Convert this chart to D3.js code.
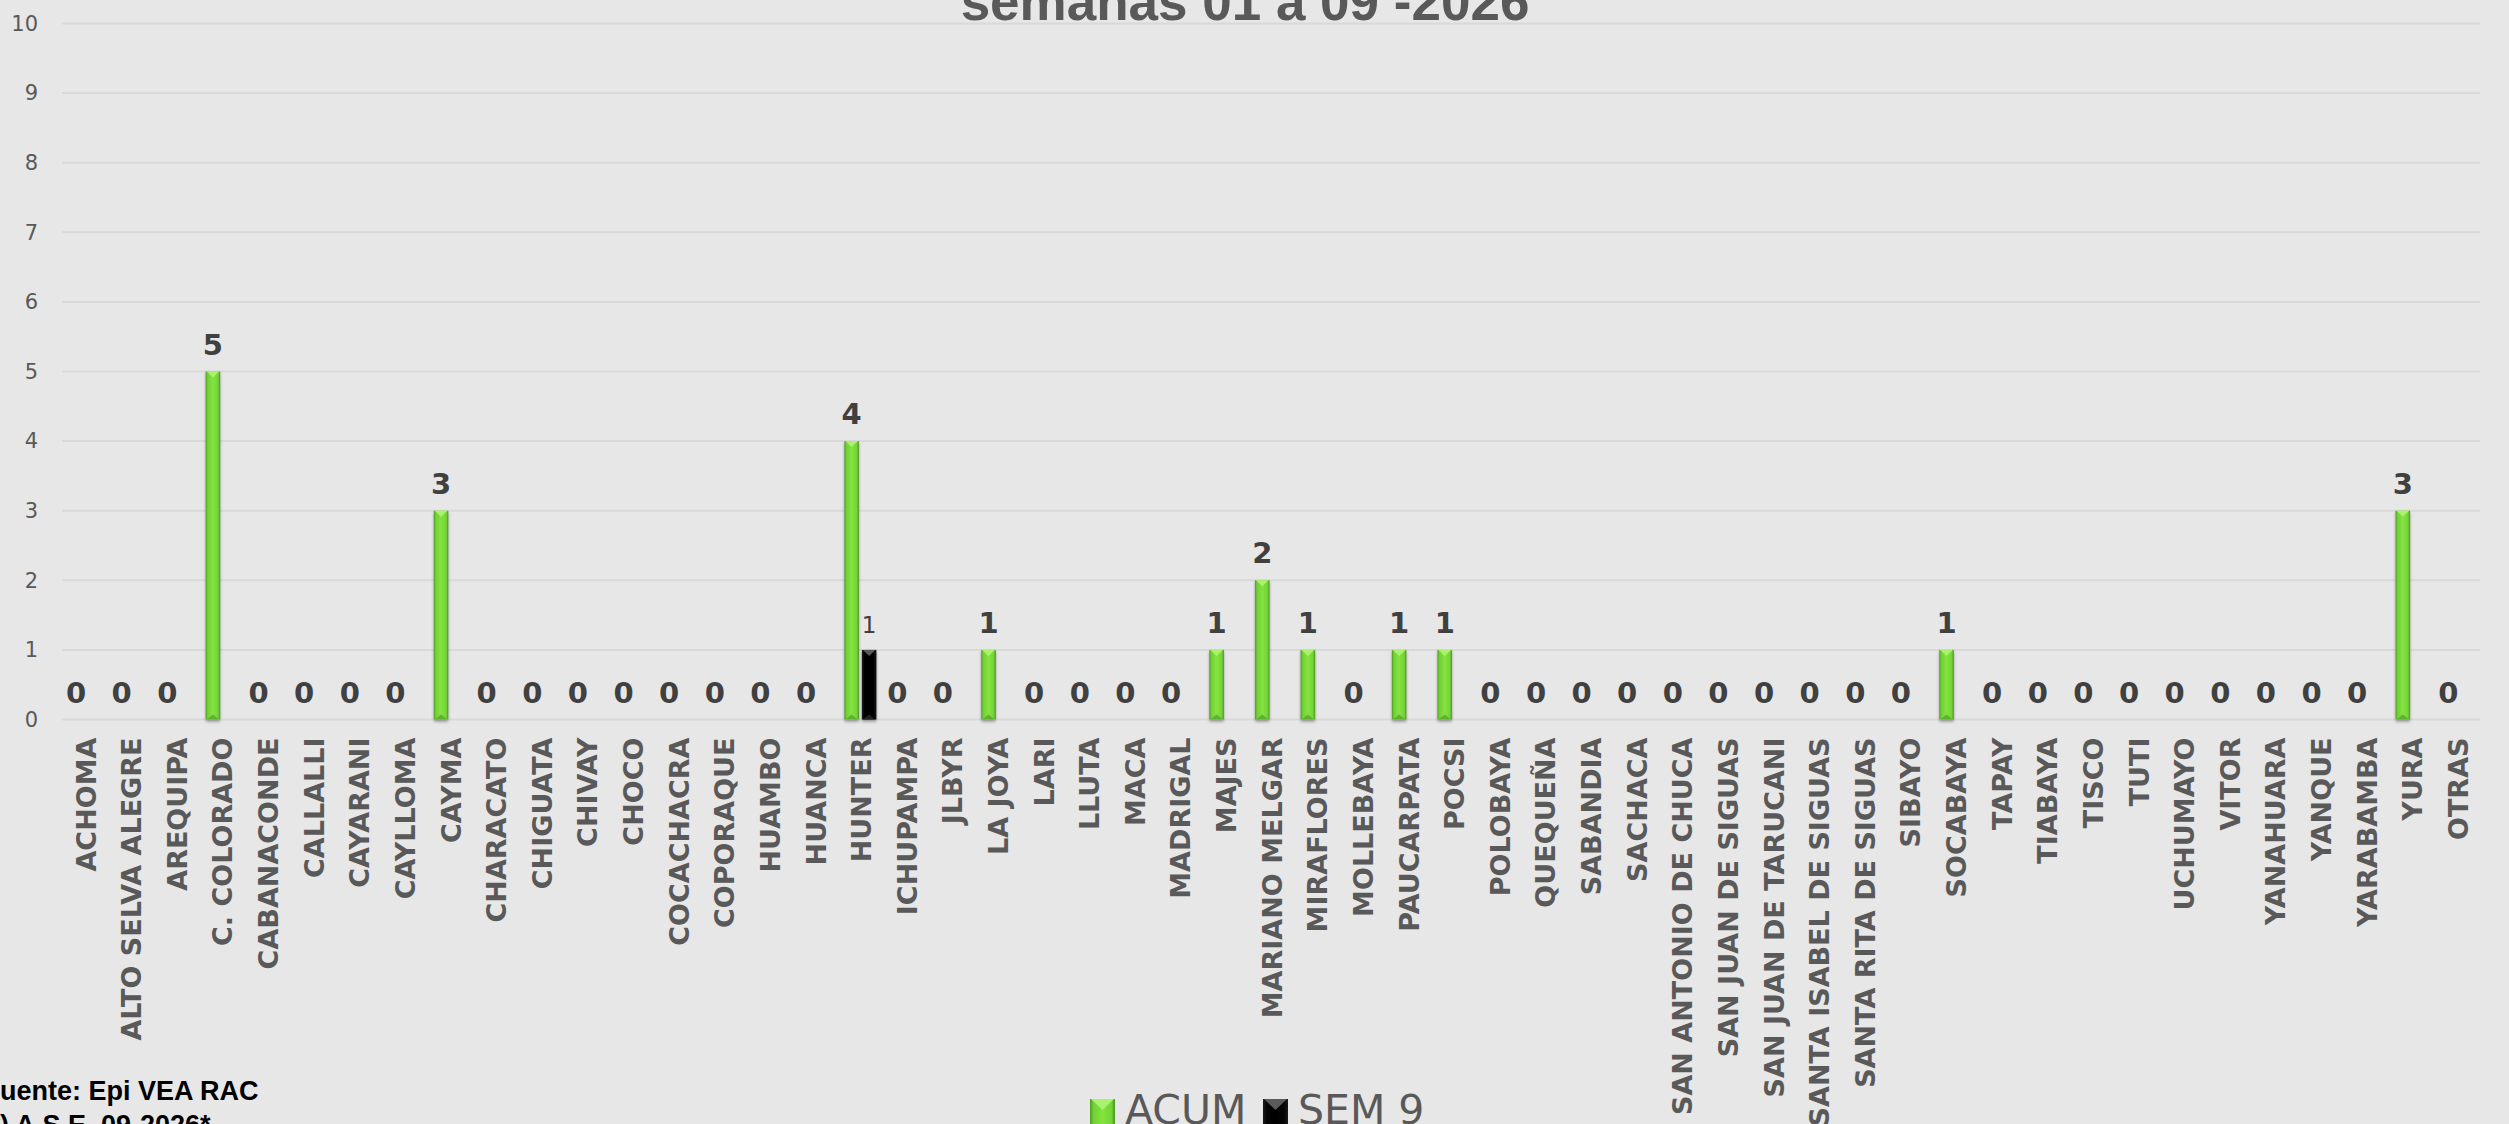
<!DOCTYPE html>
<html>
<head>
<meta charset="utf-8">
<script src="https://cdn.jsdelivr.net/npm/d3@7"></script>
<style>
  html, body { margin: 0; padding: 0; background: #E7E7E7; overflow: hidden; }
  svg { display: block; }
</style>
</head>
<body>
<svg id="chart" width="2509" height="1124"></svg>
<script>
// Districts (x-axis categories)
const districts = [
  "ACHOMA", "ALTO SELVA ALEGRE", "AREQUIPA", "C. COLORADO", "CABANACONDE",
  "CALLALLI", "CAYARANI", "CAYLLOMA", "CAYMA", "CHARACATO", "CHIGUATA",
  "CHIVAY", "CHOCO", "COCACHACRA", "COPORAQUE", "HUAMBO", "HUANCA", "HUNTER",
  "ICHUPAMPA", "JLBYR", "LA JOYA", "LARI", "LLUTA", "MACA", "MADRIGAL",
  "MAJES", "MARIANO MELGAR", "MIRAFLORES", "MOLLEBAYA", "PAUCARPATA", "POCSI",
  "POLOBAYA", "QUEQUEÑA", "SABANDIA", "SACHACA", "SAN ANTONIO DE CHUCA",
  "SAN JUAN DE SIGUAS", "SAN JUAN DE TARUCANI", "SANTA ISABEL DE SIGUAS",
  "SANTA RITA DE SIGUAS", "SIBAYO", "SOCABAYA", "TAPAY", "TIABAYA", "TISCO",
  "TUTI", "UCHUMAYO", "VITOR", "YANAHUARA", "YANQUE", "YARABAMBA", "YURA", "OTRAS"
];

// Accumulated cases, weeks 01-09
const acum = [
  0, 0, 0, 5, 0,
  0, 0, 0, 3, 0, 0,
  0, 0, 0, 0, 0, 0, 4,
  0, 0, 1, 0, 0, 0, 0,
  1, 2, 1, 0, 1, 1,
  0, 0, 0, 0, 0,
  0, 0, 0,
  0, 0, 1, 0, 0, 0,
  0, 0, 0, 0, 0, 0, 3, 0
];

// Cases in epidemiological week 9
const sem9 = [
  0, 0, 0, 0, 0,
  0, 0, 0, 0, 0, 0,
  0, 0, 0, 0, 0, 0, 1,
  0, 0, 0, 0, 0, 0, 0,
  0, 0, 0, 0, 0, 0,
  0, 0, 0, 0, 0,
  0, 0, 0,
  0, 0, 0, 0, 0, 0,
  0, 0, 0, 0, 0, 0, 0, 0
];

const seriesNames = ["ACUM", "SEM 9"];
const yTicks = [0, 1, 2, 3, 4, 5, 6, 7, 8, 9, 10];
const titleText = "semanas 01 a 09 -2026";
const sourceLines = ["Fuente: Epi VEA RAC", "(*) A.S.E. 09-2026*"];

const rows = districts.map((d, i) => ({ name: d, values: [acum[i], sem9[i]] }));

const svg = d3.select("#chart");
const W = 2509, H = 1124;
const plot = { left: 62, right: 2480, top: 23.5, bottom: 719.5 };

svg.append("rect").attr("width", W).attr("height", H).attr("fill", "#E7E7E7");

// Gradients for the bevelled bars
const defs = svg.append("defs");
function hGrad(id, stops) {
  const g = defs.append("linearGradient").attr("id", id)
    .attr("x1", "0%").attr("x2", "100%").attr("y1", "0%").attr("y2", "0%");
  stops.forEach(([o, c]) => g.append("stop").attr("offset", o).attr("stop-color", c));
}
hGrad("gGreen", [["0%", "#4E9A24"], ["14%", "#72CF36"], ["50%", "#83E43F"], ["86%", "#74D238"], ["100%", "#4A9220"]]);
hGrad("gBlack", [["0%", "#1a1a1a"], ["15%", "#050505"], ["50%", "#000000"], ["85%", "#050505"], ["100%", "#1a1a1a"]]);
const shadow = defs.append("filter").attr("id", "shadow").attr("x", "-50%").attr("y", "-10%").attr("width", "200%").attr("height", "130%");
shadow.append("feGaussianBlur").attr("in", "SourceAlpha").attr("stdDeviation", 1.6);
shadow.append("feOffset").attr("dx", 0).attr("dy", 1.5).attr("result", "b");
shadow.append("feComponentTransfer").append("feFuncA").attr("type", "linear").attr("slope", 0.35);
const merge = shadow.append("feMerge");
merge.append("feMergeNode");
merge.append("feMergeNode").attr("in", "SourceGraphic");

// Scales
const x0 = d3.scaleBand().domain(districts).range([plot.left, plot.right]).paddingInner(0).paddingOuter(0);
const x1 = d3.scaleBand().domain(seriesNames).range([0, x0.bandwidth()]).paddingInner(0.171).paddingOuter(0.388);
const y = d3.scaleLinear().domain([0, 10]).range([plot.bottom, plot.top]);

// Gridlines
svg.append("g").selectAll("line").data(yTicks).join("line")
  .attr("x1", plot.left).attr("x2", plot.right)
  .attr("y1", d => y(d)).attr("y2", d => y(d))
  .attr("stroke", "#D9D9D9").attr("stroke-width", 2);

// Y axis labels
const yAxis = d3.axisLeft(y).tickValues(yTicks).tickSize(0).tickPadding(0).tickFormat(d3.format("d"));
const yg = svg.append("g").attr("transform", `translate(${plot.left - 24},0)`).call(yAxis);
yg.select(".domain").remove();
yg.selectAll("text").attr("font-family", "'DejaVu Sans', Verdana, sans-serif").attr("font-size", 21)
  .attr("fill", "#595959");

// Title
svg.append("text").attr("x", 1245).attr("y", 20).attr("text-anchor", "middle")
  .attr("font-family", "'Liberation Sans', Arial, sans-serif").attr("font-weight", "bold")
  .attr("font-size", 53).attr("fill", "#595959").text(titleText);

// Bars
const fills = ["url(#gGreen)", "url(#gBlack)"];
const caps = ["#A9F26E", "#5a5a5a"];
const groups = svg.append("g").selectAll("g").data(rows).join("g")
  .attr("transform", d => `translate(${x0(d.name)},0)`);

groups.each(function (d) {
  const g = d3.select(this);
  seriesNames.forEach((s, k) => {
    const v = d.values[k];
    if (v <= 0) return;
    const bx = x1(s), bw = x1.bandwidth();
    const top = y(v), bot = y(0);
    const bar = g.append("g").attr("filter", "url(#shadow)");
    bar.append("rect").attr("x", bx).attr("y", top).attr("width", bw).attr("height", bot - top)
      .attr("fill", fills[k]);
    // bevel highlight at the top edge
    bar.append("path")
      .attr("d", `M${bx + 1},${top} L${bx + bw - 1},${top} L${bx + bw / 2},${top + 6} Z`)
      .attr("fill", caps[k]);
    // bevel shade at the bottom edge
    bar.append("path")
      .attr("d", `M${bx + 1},${bot} L${bx + bw - 1},${bot} L${bx + bw / 2},${bot - 5} Z`)
      .attr("fill", k === 0 ? "#5FB22E" : "#222");
  });
});

// Value labels
groups.each(function (d) {
  const g = d3.select(this);
  // ACUM labels, bold, shown for every district
  g.append("text")
    .attr("x", x1("ACUM") + x1.bandwidth() / 2)
    .attr("y", y(d.values[0]) - 17)
    .attr("text-anchor", "middle")
    .attr("font-family", "'DejaVu Sans', Verdana, sans-serif").attr("font-weight", "bold")
    .attr("font-size", 29).attr("fill", "#404040")
    .text(d.values[0]);
  // SEM 9 labels, only where there are cases
  if (d.values[1] > 0) {
    g.append("text")
      .attr("x", x1("SEM 9") + x1.bandwidth() / 2)
      .attr("y", y(d.values[1]) - 17)
      .attr("text-anchor", "middle")
      .attr("font-family", "'DejaVu Sans', Verdana, sans-serif")
      .attr("font-size", 23).attr("fill", "#404040")
      .text(d.values[1]);
  }
});

// X axis category labels (rotated)
const xAxis = d3.axisBottom(x0).tickSize(0).tickPadding(0);
const xg = svg.append("g").attr("transform", `translate(0,${plot.bottom})`).call(xAxis);
xg.select(".domain").remove();
xg.selectAll("text")
  .attr("transform", "translate(1,18) rotate(-90)")
  .attr("text-anchor", "end").attr("dy", "0.36em").attr("y", 0).attr("x", 0)
  .attr("font-family", "'DejaVu Sans', Verdana, sans-serif").attr("font-weight", "bold")
  .attr("font-size", 27).attr("fill", "#595959");

// Legend
const legend = svg.append("g");
const legendItems = [
  { name: "ACUM", x: 1090, fill: "url(#gGreen)", cap: "#A9F26E" },
  { name: "SEM 9", x: 1263, fill: "url(#gBlack)", cap: "#5a5a5a" }
];
legendItems.forEach(it => {
  legend.append("rect").attr("x", it.x).attr("y", 1099).attr("width", 25).attr("height", 25).attr("fill", it.fill);
  legend.append("path").attr("d", `M${it.x + 1},1099 L${it.x + 24},1099 L${it.x + 12.5},1110 Z`).attr("fill", it.cap);
  legend.append("text").attr("x", it.x + 35).attr("y", 1124)
    .attr("font-family", "'DejaVu Sans', Verdana, sans-serif").attr("font-size", 41)
    .attr("fill", "#595959").text(it.name);
});

// Source note
svg.append("g").selectAll("text").data(sourceLines).join("text")
  .attr("x", (d, i) => i === 0 ? -16.5 : -19.5)
  .attr("y", (d, i) => 1100 + i * 34)
  .attr("font-family", "'Liberation Sans', Arial, sans-serif").attr("font-weight", "bold")
  .attr("font-size", 27).attr("fill", "#000").text(d => d);
</script>
</body>
</html>
